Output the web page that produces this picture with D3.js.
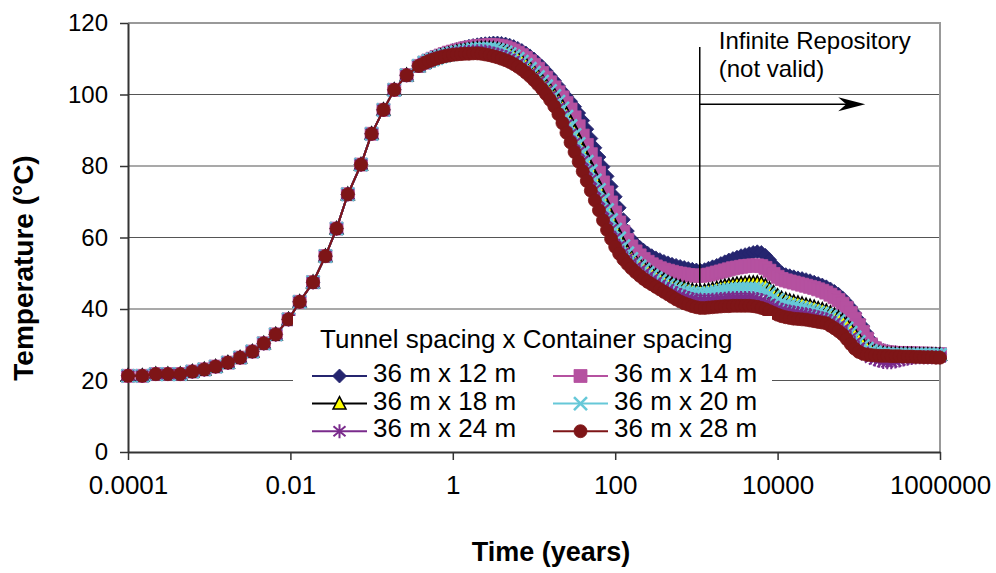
<!DOCTYPE html>
<html>
<head>
<meta charset="utf-8">
<script src="https://cdn.jsdelivr.net/npm/d3@7"></script>
<style>
  body { margin: 0; background: #fff; }
  text { font-family: "Liberation Sans", Arial, sans-serif; fill: #000; }
</style>
</head>
<body>
<svg id="chart" width="996" height="573"></svg>
<script>
// --- data ---
// early heating phase, same for every spacing
var earlyTimes = [0.0001, 0.00015, 0.00022, 0.00031, 0.00044, 0.00062, 0.00087, 0.0012, 0.0017, 0.0024,
  0.0034, 0.0047, 0.0066, 0.0095, 0.013, 0.019, 0.027, 0.037, 0.051, 0.074, 0.10, 0.14, 0.19, 0.27, 0.38];
var earlyTemps = [21.3, 21.3, 21.8, 21.8, 21.8, 22.5, 23.1, 23.9, 25.0, 26.4, 28.1, 30.4, 32.9, 37.1, 42.0,
  47.5, 54.8, 62.5, 72.1, 80.4, 89.0, 95.7, 101.3, 105.4, 108.0];

// later times, one row per decade
var lateTimes = [0.447, 0.501, 0.562, 0.631, 0.708, 0.794, 0.891,
  1, 1.12, 1.26, 1.41, 1.58, 1.78, 2, 2.24, 2.51, 2.82, 3.16, 3.55, 3.98, 4.47, 5.01, 5.62, 6.31, 7.08, 7.94, 8.91,
  10, 11.2, 12.6, 14.1, 15.8, 17.8, 20, 22.4, 25.1, 28.2, 31.6, 35.5, 39.8, 44.7, 50.1, 56.2, 63.1, 70.8, 79.4, 89.1,
  100, 112, 126, 141, 158, 178, 200, 224, 251, 282, 316, 355, 398, 447, 501, 562, 631, 708, 794, 891,
  1000, 1120, 1260, 1410, 1580, 1780, 2000, 2240, 2510, 2820, 3160, 3550, 3980, 4470, 5010, 5620, 6310, 7080, 7940, 8910,
  10000, 11200, 12600, 14100, 15800, 17800, 20000, 22400, 25100, 28200, 31600, 35500, 39800, 44700, 50100, 56200, 63100, 70800, 79400, 89100,
  100000, 112000, 126000, 141000, 158000, 178000, 200000, 224000, 251000, 282000, 316000, 355000, 398000, 447000, 501000, 562000, 631000, 708000, 794000, 891000,
  1000000];

var temp12 = [109.0, 109.6, 110.1, 110.6, 111.1, 111.5, 111.9,
  112.3, 112.6, 112.9, 113.2, 113.5, 113.7, 113.9, 114.1, 114.2, 114.3, 114.4, 114.4, 114.3, 114.1, 113.8, 113.4, 112.9, 112.3, 111.6, 110.8,
  109.9, 108.9, 107.8, 106.6, 105.3, 103.9, 102.4, 100.9, 99.5, 98.1, 96.6, 94.8, 92.7, 90.3, 87.7, 85.1, 82.5, 79.8, 77.1, 74.3,
  71.4, 68.3, 65.0, 61.8, 59.6, 58.3, 57.3, 56.4, 55.6, 54.9, 54.3, 53.8, 53.3, 52.9, 52.5, 52.2, 51.9, 51.6, 51.3, 51.1,
  50.9, 50.8, 51.0, 51.4, 51.8, 52.2, 52.7, 53.2, 53.7, 54.1, 54.5, 54.9, 55.2, 55.5, 55.8, 56.0, 55.8, 55.0, 53.8, 52.4,
  51.1, 50.2, 49.6, 49.3, 49.0, 48.7, 48.5, 48.2, 47.9, 47.5, 47.1, 46.7, 46.2, 45.6, 44.9, 44.1, 43.1, 41.9, 40.5, 38.8,
  37.0, 35.2, 33.2, 31.3, 29.8, 28.9, 28.4, 28.1, 27.9, 27.8, 27.7, 27.6, 27.6, 27.5, 27.5, 27.5, 27.4, 27.4, 27.4, 27.4,
  27.4];
var temp14 = [108.9, 109.5, 110.0, 110.5, 110.9, 111.3, 111.7,
  112.0, 112.3, 112.6, 112.9, 113.1, 113.3, 113.5, 113.6, 113.7, 113.8, 113.8, 113.7, 113.5, 113.2, 112.8, 112.3, 111.7, 111.0, 110.2, 109.3,
  108.3, 107.2, 106.0, 104.7, 103.4, 102.0, 100.6, 99.2, 97.6, 95.8, 93.6, 91.1, 88.5, 85.9, 83.3, 80.7, 78.1, 75.4, 72.6, 69.8,
  67.0, 64.2, 61.6, 59.3, 57.5, 56.1, 55.0, 54.0, 53.2, 52.5, 51.9, 51.4, 51.0, 50.7, 50.4, 50.1, 49.9, 49.7, 49.5, 49.4,
  49.3, 49.3, 49.4, 49.6, 49.9, 50.2, 50.5, 50.8, 51.1, 51.4, 51.6, 51.8, 52.0, 52.1, 52.2, 52.2, 52.0, 51.5, 50.7, 49.8,
  49.0, 48.4, 48.0, 47.7, 47.4, 47.1, 46.8, 46.5, 46.2, 45.9, 45.5, 45.1, 44.6, 44.0, 43.3, 42.5, 41.5, 40.3, 38.9, 37.3,
  35.5, 33.6, 31.7, 30.1, 29.0, 28.4, 28.1, 27.9, 27.8, 27.7, 27.7, 27.6, 27.6, 27.6, 27.5, 27.5, 27.5, 27.5, 27.4, 27.4,
  27.4];
var temp18 = [108.9, 109.4, 109.9, 110.3, 110.7, 111.0, 111.3,
  111.6, 111.9, 112.1, 112.3, 112.5, 112.7, 112.8, 112.9, 112.9, 112.9, 112.8, 112.6, 112.3, 111.9, 111.4, 110.8, 110.1, 109.3, 108.4, 107.4,
  106.3, 105.1, 103.8, 102.5, 101.2, 99.8, 98.3, 96.6, 94.5, 92.1, 89.6, 87.0, 84.4, 81.8, 79.2, 76.5, 73.8, 71.0, 68.2, 65.4,
  62.7, 60.2, 58.0, 56.0, 54.4, 53.2, 52.4, 51.6, 50.8, 50.0, 49.3, 48.6, 48.0, 47.4, 46.9, 46.5, 46.2, 45.8, 45.5, 45.2,
  45.0, 44.9, 45.0, 45.2, 45.5, 45.8, 46.1, 46.4, 46.6, 46.8, 47.0, 47.1, 47.2, 47.3, 47.3, 47.3, 47.1, 46.5, 45.6, 44.6,
  43.7, 43.0, 42.6, 42.3, 42.0, 41.7, 41.4, 41.1, 40.8, 40.5, 40.1, 39.8, 39.4, 38.9, 38.3, 37.6, 36.7, 35.6, 34.3, 32.9,
  31.5, 30.2, 29.2, 28.5, 28.0, 27.7, 27.5, 27.4, 27.3, 27.3, 27.3, 27.3, 27.3, 27.3, 27.2, 27.2, 27.2, 27.2, 27.2, 27.2,
  27.2];
var temp20 = [108.9, 109.4, 109.8, 110.2, 110.6, 110.9, 111.2,
  111.5, 111.8, 112.0, 112.2, 112.4, 112.6, 112.7, 112.8, 112.8, 112.8, 112.7, 112.5, 112.2, 111.8, 111.3, 110.7, 110.0, 109.2, 108.3, 107.2,
  106.1, 104.9, 103.6, 102.3, 101.0, 99.6, 98.0, 96.1, 93.8, 91.2, 88.7, 86.2, 83.7, 81.2, 78.6, 76.0, 73.3, 70.5, 67.7, 64.9,
  62.2, 59.8, 57.6, 55.6, 54.0, 52.8, 51.9, 51.0, 50.1, 49.3, 48.6, 47.9, 47.3, 46.7, 46.2, 45.7, 45.3, 44.9, 44.6, 44.4,
  44.2, 44.1, 44.2, 44.4, 44.6, 44.8, 45.0, 45.2, 45.4, 45.5, 45.6, 45.7, 45.7, 45.7, 45.7, 45.6, 45.4, 44.9, 44.2, 43.4,
  42.6, 41.9, 41.4, 41.1, 40.8, 40.5, 40.2, 39.9, 39.6, 39.3, 39.0, 38.7, 38.4, 37.9, 37.3, 36.6, 35.7, 34.6, 33.4, 32.1,
  30.8, 29.7, 28.9, 28.3, 27.9, 27.6, 27.5, 27.4, 27.3, 27.3, 27.3, 27.2, 27.2, 27.2, 27.2, 27.2, 27.2, 27.2, 27.2, 27.2,
  27.2];
var temp24 = [108.8, 109.3, 109.8, 110.2, 110.5, 110.8, 111.1,
  111.3, 111.5, 111.7, 111.8, 111.9, 112.0, 112.1, 112.1, 112.0, 111.8, 111.5, 111.2, 110.9, 110.5, 110.0, 109.4, 108.7, 107.9, 107.0, 106.0,
  104.9, 103.6, 102.3, 101.0, 99.6, 98.1, 96.3, 94.1, 91.6, 89.0, 86.5, 84.0, 81.5, 78.9, 76.2, 73.4, 70.6, 67.8, 65.0, 62.3,
  59.9, 57.7, 55.8, 54.2, 52.9, 51.8, 50.9, 50.0, 49.1, 48.3, 47.5, 46.8, 46.1, 45.5, 44.9, 44.4, 43.9, 43.5, 43.1, 42.8,
  42.6, 42.5, 42.5, 42.5, 42.6, 42.7, 42.8, 42.9, 43.0, 43.0, 43.1, 43.1, 43.1, 43.1, 43.0, 42.8, 42.5, 42.0, 41.4, 40.8,
  40.2, 39.8, 39.5, 39.3, 39.1, 38.9, 38.7, 38.5, 38.3, 38.0, 37.7, 37.4, 37.1, 36.6, 36.0, 35.3, 34.4, 33.3, 32.0, 30.6,
  29.2, 28.0, 27.1, 26.4, 25.9, 25.5, 25.2, 25.1, 25.1, 25.3, 25.6, 25.9, 26.1, 26.3, 26.4, 26.5, 26.5, 26.5, 26.5, 26.5,
  26.5];
var temp28 = [108.8, 109.3, 109.7, 110.1, 110.4, 110.7, 110.9,
  111.1, 111.2, 111.3, 111.4, 111.4, 111.5, 111.5, 111.4, 111.2, 111.0, 110.7, 110.4, 110.0, 109.6, 109.1, 108.5, 107.8, 107.0, 106.1, 105.1,
  104.0, 102.8, 101.5, 100.1, 98.5, 96.7, 94.5, 92.0, 89.3, 86.6, 83.9, 81.2, 78.5, 75.8, 73.1, 70.4, 67.6, 64.8, 62.1, 59.6,
  57.4, 55.5, 53.9, 52.6, 51.4, 50.3, 49.3, 48.4, 47.6, 46.9, 46.2, 45.5, 44.8, 44.1, 43.4, 42.7, 42.1, 41.6, 41.2, 40.8,
  40.5, 40.3, 40.3, 40.4, 40.5, 40.6, 40.7, 40.8, 40.8, 40.9, 40.9, 40.9, 40.9, 40.9, 40.8, 40.6, 40.3, 39.9, 39.4, 38.9,
  38.4, 38.0, 37.7, 37.5, 37.3, 37.2, 37.1, 37.0, 36.8, 36.6, 36.4, 36.2, 36.0, 35.3, 34.6, 33.8, 32.9, 31.6, 30.2, 28.9,
  28.0, 27.5, 27.2, 27.1, 27.0, 26.9, 26.9, 26.9, 26.8, 26.8, 26.8, 26.7, 26.7, 26.7, 26.6, 26.6, 26.5, 26.5, 26.5, 26.4,
  26.4];

var seriesNames = ["36 m x 12 m", "36 m x 14 m", "36 m x 18 m", "36 m x 20 m", "36 m x 24 m", "36 m x 28 m"];
var seriesTemps = [temp12, temp14, temp18, temp20, temp24, temp28];

var xTickValues = [0.0001, 0.01, 1, 100, 10000, 1000000];
var xTickLabels = ["0.0001", "0.01", "1", "100", "10000", "1000000"];
var yTickValues = [0, 20, 40, 60, 80, 100, 120];

// "Infinite Repository" marker: time of the vertical line, its extent and the arrow
var repoTime = 1100, repoTop = 113.3, repoBottom = 46.2;
var arrowTemp = 97.3, arrowEnd = 120000;

// --- styles ---
var colors = ["#25256f", "#b551a0", "#000000", "#66c8d8", "#7a2b8c", "#7e1517"];

var svg = d3.select("#chart");
var margin = {top: 23, right: 56, bottom: 121, left: 128};
var width = 996 - margin.left - margin.right,
    height = 573 - margin.top - margin.bottom;

var x = d3.scaleLog().domain([0.0001, 1000000]).range([margin.left, margin.left + width]);
var y = d3.scaleLinear().domain([0, 120]).range([margin.top + height, margin.top]);

// gridlines
svg.append("g")
  .selectAll("line")
  .data(yTickValues.filter(function(v){ return v > 0 && v < 120; }))
  .join("line")
    .attr("x1", x(0.0001)).attr("x2", x(1000000))
    .attr("y1", function(d){ return y(d); }).attr("y2", function(d){ return y(d); })
    .attr("stroke", "#555").attr("stroke-width", 1.2);

// plot frame top and right
svg.append("path")
  .attr("d", "M" + x(0.0001) + "," + y(120) + "H" + x(1000000) + "V" + y(0))
  .attr("fill", "none").attr("stroke", "#999").attr("stroke-width", 2);

// axes
var yAxis = svg.append("g")
  .attr("transform", "translate(" + margin.left + ",0)")
  .call(d3.axisLeft(y).tickValues(yTickValues).tickSize(8).tickSizeOuter(0).tickPadding(12));
yAxis.select(".domain").attr("stroke", "#333").attr("stroke-width", 2);
yAxis.selectAll(".tick line").attr("stroke", "#333").attr("stroke-width", 1.5);
yAxis.selectAll(".tick text").style("font-size", "24px").attr("font-family", null);

var xAxis = svg.append("g")
  .attr("transform", "translate(0," + y(0) + ")")
  .call(d3.axisBottom(x).tickValues(xTickValues).tickSize(8).tickSizeOuter(0).tickPadding(16)
    .tickFormat(function(d, i){ return xTickLabels[i]; }));
xAxis.select(".domain").attr("stroke", "#333").attr("stroke-width", 2);
xAxis.selectAll(".tick line").attr("stroke", "#333").attr("stroke-width", 1.5);
xAxis.selectAll(".tick text").style("font-size", "26px").attr("font-family", null);

// axis titles
svg.append("text")
  .attr("transform", "translate(33,268) rotate(-90)")
  .attr("text-anchor", "middle")
  .style("font-size", "28px").style("font-weight", "bold")
  .text("Temperature (°C)");
svg.append("text")
  .attr("x", 551).attr("y", 561)
  .attr("text-anchor", "middle")
  .style("font-size", "27px").style("font-weight", "bold")
  .text("Time (years)");

// marker shapes
function markerPath(i){
  switch(i){
    case 0: return "M0,-7L7,0L0,7L-7,0Z";
    case 1: return "M-6.5,-6.5H6.5V6.5H-6.5Z";
    case 2: return "M0,-7L6.5,5.5L-6.5,5.5Z";
    case 3: return "M-6.5,-6.5L6.5,6.5M-6.5,6.5L6.5,-6.5";
    case 4: return "M0,-7V7M-6,-5L6,5M-6,5L6,-5";
    default: return d3.symbol(d3.symbolCircle, 133)();
  }
}
function drawMarker(sel, i){
  sel.attr("d", markerPath(i));
  if(i === 0 || i === 1 || i === 5){
    sel.attr("fill", colors[i]).attr("stroke", colors[i]).attr("stroke-width", 0.8);
  } else if(i === 2){
    sel.attr("fill", "#ffff00").attr("stroke", "#000").attr("stroke-width", 1.5);
  } else if(i === 3){
    sel.attr("fill", "none").attr("stroke", colors[i]).attr("stroke-width", 2.6);
  } else {
    sel.attr("fill", "none").attr("stroke", colors[i]).attr("stroke-width", 2);
  }
}

var line = d3.line()
  .x(function(d){ return x(d.t); })
  .y(function(d){ return y(d.v); });

seriesTemps.forEach(function(late, i){
  var pts = earlyTimes.concat(lateTimes).map(function(t, k){
    return {t: t, v: earlyTemps.concat(late)[k]};
  });
  var g = svg.append("g");
  g.append("path").datum(pts)
    .attr("d", line).attr("fill", "none")
    .attr("stroke", colors[i]).attr("stroke-width", 2);
  g.selectAll("path.m").data(pts).join("path")
    .attr("class", "m")
    .attr("transform", function(d){ return "translate(" + x(d.t) + "," + y(d.v) + ")"; })
    .call(drawMarker, i);
});

// infinite repository annotation
svg.append("line")
  .attr("x1", x(repoTime)).attr("x2", x(repoTime))
  .attr("y1", y(repoTop)).attr("y2", y(repoBottom))
  .attr("stroke", "#000").attr("stroke-width", 1.5);
svg.append("line")
  .attr("x1", x(repoTime)).attr("x2", x(arrowEnd) - 10)
  .attr("y1", y(arrowTemp)).attr("y2", y(arrowTemp))
  .attr("stroke", "#000").attr("stroke-width", 1.5);
var ax = x(arrowEnd), ay = y(arrowTemp);
svg.append("path")
  .attr("d", "M" + ax + "," + ay + "L" + (ax - 27) + "," + (ay - 7) + "L" + (ax - 19) + "," + ay + "L" + (ax - 27) + "," + (ay + 7) + "Z")
  .attr("fill", "#000");
svg.append("text").attr("x", x(repoTime) + 19).attr("y", 49)
  .style("font-size", "24px").text("Infinite Repository");
svg.append("text").attr("x", x(repoTime) + 19).attr("y", 77)
  .style("font-size", "24px").text("(not valid)");

// legend
var legend = svg.append("g");
legend.append("rect")
  .attr("x", 293).attr("y", 316).attr("width", 479).attr("height", 131)
  .attr("fill", "#fff");
legend.append("text").attr("x", 320).attr("y", 348)
  .style("font-size", "26px").text("Tunnel spacing x Container spacing");
seriesNames.forEach(function(name, i){
  var col = i % 2, row = Math.floor(i / 2);
  var lx = col === 0 ? 312 : 553;
  var ly = 376 + row * 27.6;
  legend.append("line")
    .attr("x1", lx).attr("x2", lx + 55).attr("y1", ly).attr("y2", ly)
    .attr("stroke", colors[i]).attr("stroke-width", 2);
  legend.append("path")
    .attr("transform", "translate(" + (lx + 27.5) + "," + ly + ")")
    .call(drawMarker, i);
  legend.append("text").attr("x", lx + 61).attr("y", ly + 6)
    .style("font-size", "26px").text(name);
});
</script>
</body>
</html>
